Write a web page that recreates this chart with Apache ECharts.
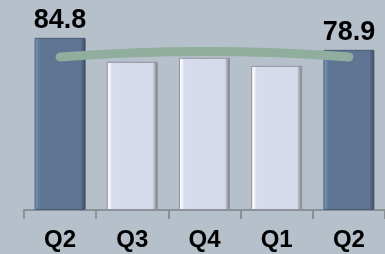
<!DOCTYPE html>
<html><head><meta charset="utf-8">
<script src="https://cdn.jsdelivr.net/npm/echarts@6/dist/echarts.min.js"></script>
<style>html,body{margin:0;padding:0;background:#b6c0ca}#c{width:385px;height:254px}</style>
</head><body><div id="c"></div>
<script>
var categories = ['Q2','Q3','Q4','Q1','Q2'];
var barValues = [84.8, 73.0, 75.0, 71.0, 78.9];
var barLabels = ['84.8','','','','78.9'];
var trendValues = [75.4, 77.4, 78.1, 77.5, 75.4];
var darkIdx = [0, 4];

function darkFill(){return new echarts.graphic.LinearGradient(0,0,1,0,[
  {offset:0,color:'#85a0c8'},{offset:0.06,color:'#6a82a6'},{offset:0.1,color:'#5f7594'},
  {offset:0.9,color:'#5f7594'},{offset:0.96,color:'#4a5b74'},{offset:1,color:'#2c3646'}]);}
function lightFill(){return new echarts.graphic.LinearGradient(0,0,1,0,[
  {offset:0,color:'#ffffff'},{offset:0.06,color:'#f4f5fb'},{offset:0.1,color:'#d8dbeb'},
  {offset:0.9,color:'#d6d9ea'},{offset:0.95,color:'#a0a4b0'},{offset:1,color:'#6f747c'}]);}

var chart = echarts.init(document.getElementById('c'));
chart.setOption({
  backgroundColor:'#b6c0ca',
  animation:false,
  grid:{left:24,right:-4,top:7,bottom:44},
  xAxis:{type:'category',data:categories,
    axisLine:{lineStyle:{color:'#8b9096',width:2}},
    axisTick:{show:true,length:9,lineStyle:{color:'#8b9096',width:2}},
    axisLabel:{color:'#000',fontSize:24,fontWeight:'bold',fontFamily:'Liberation Sans, Arial, sans-serif',margin:18}},
  yAxis:{type:'value',min:0,max:100,show:false,splitLine:{show:false}},
  series:[
    {type:'bar',barWidth:51,
     data:barValues.map(function(v,i){
       var dark = darkIdx.indexOf(i)>=0;
       return {value:v,itemStyle:{color:dark?darkFill():lightFill(),
         borderColor:dark?'#4c5c74':'#8e939c',borderWidth:1},
         label:{show:barLabels[i]!=='',formatter:barLabels[i]}};
     }),
     label:{position:'top',distance:4,color:'#000',fontSize:27,fontWeight:'bold',fontFamily:'Liberation Sans, Arial, sans-serif'}},
    {type:'line',data:trendValues,smooth:true,symbol:'none',z:5,
     lineStyle:{color:'#8fae9e',width:9,cap:'round'}}
  ]
});
</script></body></html>
